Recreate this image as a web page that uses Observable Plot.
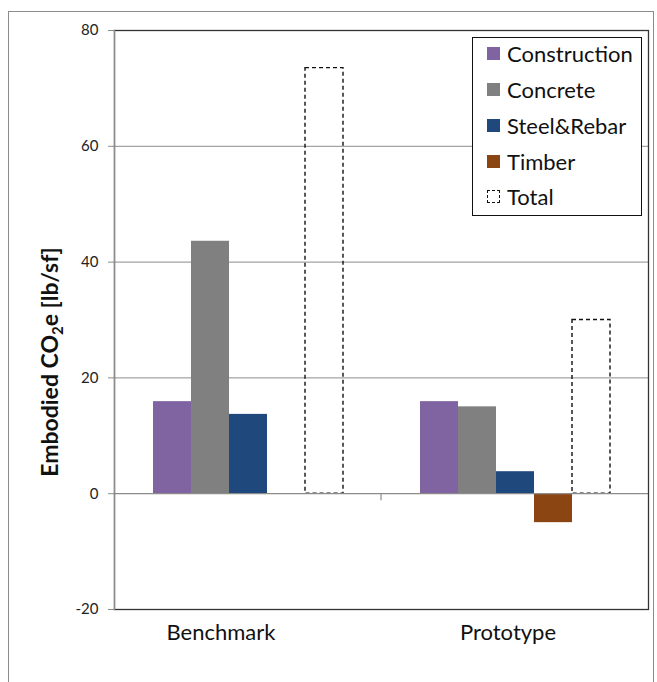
<!DOCTYPE html>
<html><head><meta charset="utf-8">
<script src="https://cdn.jsdelivr.net/npm/d3@7"></script>
<script src="https://cdn.jsdelivr.net/npm/@observablehq/plot@0.6"></script>
<style>
body{margin:0;background:#fff;font-family:Lato,"Open Sans",sans-serif;}
#wrap{position:relative;width:657px;height:682px;overflow:hidden;}
#wrap svg{position:absolute;left:0;top:0;}
#border{position:absolute;left:8px;top:11px;width:646px;height:700px;border:1px solid #8c8c8c;box-sizing:border-box;}
#legend{position:absolute;left:472px;top:37px;width:170px;height:179px;border:1.5px solid #111;box-sizing:border-box;background:#fff;}
.row{position:absolute;left:14px;height:24px;display:flex;align-items:center;font-size:22px;color:#111;white-space:nowrap;}
.sw{width:13px;height:13px;margin-right:7px;box-sizing:border-box;}
</style></head>
<body><div id="wrap"><div id="border"></div></div>
<script>
const categories = ["Benchmark", "Prototype"];
const series = ["Construction", "Concrete", "Steel&Rebar", "Timber", "Total"];
const benchmarkValues = [15.9, 43.6, 13.7, 0, 73.5];
const prototypeValues = [15.9, 15.0, 3.8, -5.0, 30.0];
const seriesColors = ["#8064A2", "#808080", "#1F497D", "#8B4513", "none"];
const yTicks = [-20, 0, 20, 40, 60, 80];

const rows = [];
categories.forEach((c, ci) => {
  const vals = ci === 0 ? benchmarkValues : prototypeValues;
  series.forEach((s, si) => rows.push({category: c, series: s, value: vals[si]}));
});
const materials = rows.filter(d => d.series !== "Total" && d.value !== 0);
const totals = rows.filter(d => d.series === "Total");

const plot = Plot.plot({
  width: 657, height: 682,
  marginLeft: 113, marginRight: 9, marginTop: 30, marginBottom: 73,
  style: {background: "transparent", fontFamily: "Lato, sans-serif"},
  fx: {domain: categories, padding: 0, axis: null, label: null},
  x: {domain: series, paddingInner: 0, paddingOuter: 1, axis: null, label: null},
  y: {domain: [-20, 80], label: null, axis: null},
  color: {domain: series, range: seriesColors},
  marks: [
    Plot.gridY(yTicks.filter(t => t > -20 && t < 80 && t !== 0), {stroke: "#8c8c8c", strokeOpacity: 1}),
    Plot.barY(materials, {fx: "category", x: "series", y: "value", fill: "series", inset: 0}),
    Plot.barY(totals, {fx: "category", x: "series", y: "value", fill: "none", stroke: "#111", strokeDasharray: "4,3", strokeWidth: 1.4, inset: 0}),
    Plot.ruleY([0], {stroke: "#8c8c8c", strokeWidth: 1.3}),
    Plot.axisY(yTicks, {tickSize: 6, tickPadding: 10, fontSize: 15, stroke: "#8c8c8c", fill: "#222", label: null, tickFormat: d => String(d)}),
    Plot.text([categories[0]], {fx: d => d, text: d => d, frameAnchor: "bottom", dy: 30, dx: -27, fontSize: 22, fill: "#111"}),
    Plot.text([categories[1]], {fx: d => d, text: d => d, frameAnchor: "bottom", dy: 30, dx: -7, fontSize: 22, fill: "#111"}),
    Plot.frame({facet: "super", stroke: "#333", strokeWidth: 1.3}),
    Plot.frame({facet: "super", anchor: "left", stroke: "#8c8c8c", strokeWidth: 1.3})
  ]
});

const wrap = document.getElementById("wrap");
wrap.insertBefore(plot, wrap.firstChild);

const svg = d3.select(plot);
// category boundary tick on zero line
try {
  const fx = plot.scale("fx");
  const y = plot.scale("y");
  const bx = fx.apply(categories[1]);
  const y0 = y.apply(0);
  svg.append("line").attr("x1", bx).attr("x2", bx).attr("y1", y0).attr("y2", y0 + 7)
    .attr("stroke", "#8c8c8c").attr("stroke-width", 1.2);
} catch (e) {}

// y axis title with subscript
const t = svg.append("text")
  .attr("transform", "translate(58,362) rotate(-90)")
  .attr("text-anchor", "middle")
  .attr("font-weight", "bold")
  .attr("font-size", 23)
  .attr("font-family", "Lato, sans-serif")
  .attr("fill", "#111");
t.append("tspan").text("Embodied CO");
t.append("tspan").text("2").attr("font-size", 15).attr("dy", 5);
t.append("tspan").text("e [lb/sf]").attr("dy", -5);

// legend
const legend = document.createElement("div");
legend.id = "legend";
const rowTops = [3, 39, 75, 111, 146];
series.forEach((s, i) => {
  const r = document.createElement("div");
  r.className = "row";
  r.style.top = rowTops[i] + "px";
  const sw = document.createElement("span");
  sw.className = "sw";
  if (seriesColors[i] === "none") {
    sw.style.border = "1.5px dashed #111";
  } else {
    sw.style.background = seriesColors[i];
  }
  const lab = document.createElement("span");
  lab.textContent = s;
  r.appendChild(sw); r.appendChild(lab);
  legend.appendChild(r);
});
wrap.appendChild(legend);
</script>
</body></html>
